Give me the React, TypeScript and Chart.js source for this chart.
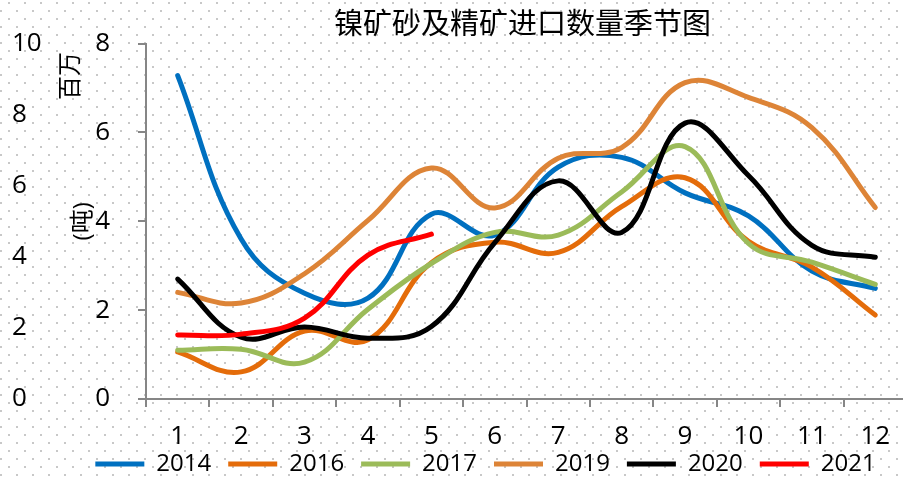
import React, { useEffect, useRef } from 'react';
import { Chart, registerables } from 'chart.js';

Chart.register(...registerables);

// ---- data ----
const TITLE = '镍矿砂及精矿进口数量季节图';
const UNIT_TOP = '百万';
const UNIT_AXIS = '(吨)';
const MONTHS = ['1', '2', '3', '4', '5', '6', '7', '8', '9', '10', '11', '12'];
const SERIES_NAMES = ['2014', '2016', '2017', '2019', '2020', '2021'];
const SERIES_COLORS = ['#0070C0', '#E46C0A', '#9BBB59', '#DD8437', '#000000', '#FF0000'];

const V2014 = [7.28, 3.6, 2.38, 2.27, 4.16, 3.69, 5.22, 5.44, 4.64, 4.12, 2.88, 2.49];
const V2016 = [1.06, 0.61, 1.53, 1.33, 3.07, 3.53, 3.3, 4.33, 4.98, 3.55, 2.97, 1.89];
const V2017 = [1.1, 1.12, 0.83, 2.02, 3.05, 3.75, 3.69, 4.66, 5.68, 3.5, 3.08, 2.58];
const V2019 = [2.4, 2.16, 2.82, 4.02, 5.2, 4.3, 5.42, 5.66, 7.12, 6.79, 6.11, 4.31];
const V2020 = [2.7, 1.39, 1.62, 1.37, 1.63, 3.52, 4.91, 3.75, 6.21, 5.03, 3.46, 3.19];
const V2021 = [1.44, 1.46, 1.82, 3.24, 3.71];
const SERIES_VALUES = [V2014, V2016, V2017, V2019, V2020, V2021];

const INNER_MIN = 0;
const INNER_MAX = 8;
const OUTER_MIN = 0;
const OUTER_MAX = 10;
const TICK_STEP = 2;

// ---- style ----
const FONT = '"Open Sans", "Noto Sans CJK SC", sans-serif';
const AXIS_GREY = '#868686';
const CANVAS_W = 907;
const CANVAS_H = 506;

const dotBackground = {
  id: 'dotBackground',
  beforeDraw(chart: any) {
    const ctx = chart.ctx;
    ctx.save();
    ctx.fillStyle = '#ffffff';
    ctx.fillRect(0, 0, chart.width, chart.height);
    ctx.fillStyle = '#c8c8c8';
    for (let y = 2, r = 0; y < chart.height; y += 8, r++) {
      const x0 = r % 2 === 0 ? 8 : 0;
      for (let x = x0; x < chart.width; x += 16) ctx.fillRect(x, y, 2, 2);
    }
    ctx.restore();
  },
};

const shiftBlocks = {
  id: 'shiftBlocks',
  afterLayout(chart: any) {
    const t = chart.titleBlock;
    if (t) {
      t.left += 63;
      t.right += 63;
    }
    const l = chart.legend;
    if (l) {
      l.left += 26;
      l.right += 26;
      l.top -= 20;
      l.bottom -= 20;
    }
  },
};

const unitLabel = {
  id: 'unitLabel',
  afterDraw(chart: any) {
    const ctx = chart.ctx;
    ctx.save();
    ctx.translate(71.5, 76);
    ctx.rotate(-Math.PI / 2);
    ctx.font = `24px ${FONT}`;
    ctx.fillStyle = '#000';
    ctx.textAlign = 'center';
    ctx.textBaseline = 'middle';
    ctx.fillText(UNIT_TOP, 0, 0);
    ctx.restore();
  },
};

export default function App() {
  const ref = useRef<HTMLCanvasElement | null>(null);

  useEffect(() => {
    if (!ref.current) return;
    const n = SERIES_NAMES.length;
    const datasets = SERIES_NAMES.map((name, i) => ({
      label: name,
      data: SERIES_VALUES[i],
      borderColor: SERIES_COLORS[i],
      backgroundColor: SERIES_COLORS[i],
      borderWidth: 5,
      borderCapStyle: 'round' as const,
      borderJoinStyle: 'round' as const,
      pointRadius: 0,
      pointHoverRadius: 0,
      tension: 0.4,
      fill: false,
      yAxisID: 'y',
      order: n - i,
    }));

    const chart = new Chart(ref.current, {
      type: 'line',
      data: { labels: MONTHS, datasets },
      plugins: [dotBackground, shiftBlocks, unitLabel],
      options: {
        animation: false,
        responsive: false,
        devicePixelRatio: 1,
        layout: { padding: { left: 12, right: 0, top: 0, bottom: 0 } },
        plugins: {
          tooltip: { enabled: false },
          title: {
            display: true,
            text: TITLE,
            color: '#000',
            font: { size: 29, family: FONT, weight: 'normal' },
            padding: { top: 8, bottom: 0 },
          },
          legend: {
            position: 'bottom',
            labels: {
              usePointStyle: true,
              pointStyle: 'line',
              pointStyleWidth: 49,
              boxHeight: 5,
              padding: 17,
              color: '#000',
              font: { size: 24, family: FONT },
              sort: (a: any, b: any) => a.datasetIndex - b.datasetIndex,
            },
          },
        },
        scales: {
          x: {
            type: 'category',
            offset: true,
            grid: {
              display: true,
              drawOnChartArea: false,
              offset: true,
              tickLength: 8,
              color: AXIS_GREY,
              lineWidth: 2,
            },
            border: { display: true, color: AXIS_GREY, width: 2 },
            ticks: {
              color: '#000',
              font: { size: 26, family: FONT },
              padding: 14,
              maxRotation: 0,
              autoSkip: false,
            },
            afterFit: (s: any) => {
              s.height = 56;
            },
          },
          yOuter: {
            type: 'linear',
            position: 'left',
            weight: 2,
            min: OUTER_MIN,
            max: OUTER_MAX,
            grid: { display: false },
            border: { display: false },
            ticks: {
              stepSize: TICK_STEP,
              crossAlign: 'far',
              color: '#000',
              font: { size: 26, family: FONT },
              padding: 0,
            },
            afterFit: (s: any) => {
              s.width = 33;
            },
          },
          y: {
            type: 'linear',
            position: 'left',
            weight: 1,
            min: INNER_MIN,
            max: INNER_MAX,
            grid: {
              display: true,
              drawOnChartArea: false,
              tickLength: 8,
              color: AXIS_GREY,
              lineWidth: 2,
            },
            border: { display: true, color: AXIS_GREY, width: 2 },
            ticks: {
              stepSize: TICK_STEP,
              color: '#000',
              font: { size: 26, family: FONT },
              padding: 28,
            },
            title: {
              display: true,
              text: UNIT_AXIS,
              color: '#000',
              font: { size: 24, family: FONT },
              padding: { top: 24, bottom: 0 },
            },
            afterFit: (s: any) => {
              s.width = 101;
            },
          },
        },
      } as any,
    });
    return () => chart.destroy();
  }, []);

  return (
    <div
      style={{
        position: 'fixed',
        left: 0,
        top: 0,
        width: 903,
        height: 477,
        overflow: 'hidden',
        background: '#fff',
      }}
    >
      <canvas
        ref={ref}
        width={CANVAS_W}
        height={CANVAS_H}
        style={{ display: 'block', width: CANVAS_W, height: CANVAS_H }}
      />
    </div>
  );
}
